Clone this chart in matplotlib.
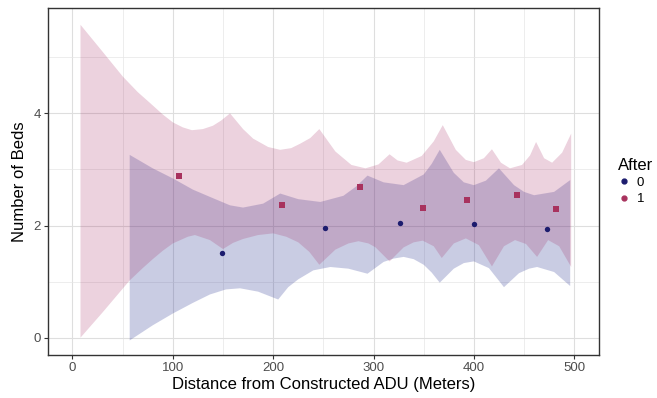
import matplotlib
matplotlib.use("Agg")
import matplotlib.pyplot as plt
from matplotlib.lines import Line2D
import numpy as np

plt.rcParams['font.family'] = ['Liberation Sans', 'DejaVu Sans']

# observed means per distance bin
after0_x = [149, 252, 326, 400, 473]
after0_y = [1.51, 1.96, 2.05, 2.03, 1.93]
after1_x = [106, 209, 287, 349, 393, 443, 482]
after1_y = [2.88, 2.36, 2.68, 2.32, 2.45, 2.54, 2.30]

# smoothed band edges, After = 1
band1_up_x = [8, 30, 50, 65, 77, 90, 100, 110, 119, 130, 140, 148, 157, 170, 180, 195,
              207, 218, 227, 237, 246, 262, 278, 292, 305, 316, 324, 333, 348, 360,
              369, 382, 392, 400, 410, 418, 427, 436, 448, 456, 462, 470, 478, 488, 497]
band1_up_y = [5.58, 5.10, 4.66, 4.38, 4.19, 3.98, 3.84, 3.75, 3.70, 3.72, 3.78, 3.87,
              4.00, 3.72, 3.55, 3.40, 3.35, 3.38, 3.46, 3.56, 3.72, 3.32, 3.08, 3.02,
              3.09, 3.27, 3.16, 3.12, 3.24, 3.50, 3.79, 3.35, 3.17, 3.13, 3.20, 3.36,
              3.12, 3.02, 3.08, 3.25, 3.49, 3.20, 3.12, 3.30, 3.64]
band1_lo_x = [8, 30, 57, 70, 80, 90, 100, 115, 122, 137, 150, 160, 170, 185, 200, 213,
              225, 236, 246, 262, 275, 285, 295, 302, 316, 330, 340, 349, 360, 368, 380,
              392, 405, 418, 430, 441, 452, 463, 474, 485, 497]
band1_lo_y = [0.00, 0.45, 1.02, 1.24, 1.40, 1.55, 1.68, 1.80, 1.83, 1.74, 1.58, 1.69,
              1.76, 1.83, 1.86, 1.80, 1.70, 1.53, 1.30, 1.57, 1.68, 1.72, 1.68, 1.61,
              1.36, 1.61, 1.70, 1.73, 1.63, 1.42, 1.68, 1.77, 1.65, 1.27, 1.63, 1.74,
              1.67, 1.44, 1.74, 1.63, 1.26]

# smoothed band edges, After = 0
band0_up_x = [57, 80, 100, 120, 137, 157, 170, 190, 207, 225, 247, 270, 283, 294, 310,
              330, 350, 358, 366, 380, 390, 400, 412, 425, 440, 450, 460, 480, 496]
band0_up_y = [3.26, 3.02, 2.84, 2.64, 2.51, 2.36, 2.32, 2.39, 2.57, 2.47, 2.42, 2.53,
              2.70, 2.89, 2.77, 2.72, 2.91, 3.10, 3.35, 2.94, 2.77, 2.72, 2.80, 3.02,
              2.72, 2.60, 2.54, 2.60, 2.81]
band0_lo_x = [57, 80, 100, 120, 137, 153, 167, 185, 205, 215, 225, 240, 257, 275, 294,
              310, 320, 330, 340, 350, 358, 366, 380, 390, 400, 415, 430, 445, 455, 463,
              480, 496]
band0_lo_y = [-0.05, 0.22, 0.43, 0.62, 0.77, 0.86, 0.88, 0.82, 0.68, 0.90, 1.04, 1.20,
              1.26, 1.23, 1.14, 1.35, 1.41, 1.44, 1.40, 1.30, 1.16, 0.98, 1.23, 1.33,
              1.36, 1.24, 0.90, 1.15, 1.23, 1.26, 1.17, 0.92]

col0 = '#1c1c6e'
col1 = '#a8325e'

fig = plt.figure(figsize=(6.57, 3.98), dpi=100)
ax = fig.add_axes([48 / 657, 1 - 355 / 398, 551 / 657, 347 / 398])


def band(ax, up_x, up_y, lo_x, lo_y, color, alpha):
    xs = list(up_x) + list(lo_x[::-1])
    ys = list(up_y) + list(lo_y[::-1])
    ax.fill(xs, ys, color=color, alpha=alpha, lw=0, zorder=2)


band(ax, band0_up_x, band0_up_y, band0_lo_x, band0_lo_y, '#2a3593', 0.25)
band(ax, band1_up_x, band1_up_y, band1_lo_x, band1_lo_y, '#a01e5a', 0.2)

ax.scatter(after0_x, after0_y, s=15, color=col0, zorder=4, lw=0)
ax.scatter(after1_x, after1_y, s=13, color=col1, marker='s', zorder=4, lw=0)

ax.set_xlim(-24.4, 524.7)
ax.set_ylim(-0.31, 5.88)
ax.set_xticks([0, 100, 200, 300, 400, 500])
ax.set_xticks([50, 150, 250, 350, 450], minor=True)
ax.set_yticks([0, 2, 4])
ax.set_yticks([1, 3, 5], minor=True)
ax.grid(which='major', color='#dedede', lw=0.8, zorder=0)
ax.grid(which='minor', color='#e6e6e6', lw=0.5, zorder=0)
ax.set_axisbelow(True)
ax.tick_params(which='major', length=3, width=0.8, color='#333333',
               labelsize=9.5, labelcolor='#4d4d4d', pad=2)
ax.tick_params(which='minor', length=0)
for s in ax.spines.values():
    s.set_color('#333333')
    s.set_linewidth(1.0)

ax.set_xlabel('Distance from Constructed ADU (Meters)', fontsize=12, labelpad=2)
ax.set_ylabel('Number of Beds', fontsize=12, labelpad=5)

handles = [Line2D([], [], ls='', marker='o', ms=3.5, color=col0),
           Line2D([], [], ls='', marker='o', ms=3.5, color=col1)]
leg = ax.legend(handles, ['0', '1'], title='After', loc='center left',
                bbox_to_anchor=(1.035, 0.5), frameon=False, fontsize=9.5,
                title_fontsize=12, handlelength=0.8, handletextpad=0.6,
                labelspacing=0.3, borderpad=0, borderaxespad=0)
leg._legend_box.align = 'left'

fig.savefig('out.png', dpi=100)
